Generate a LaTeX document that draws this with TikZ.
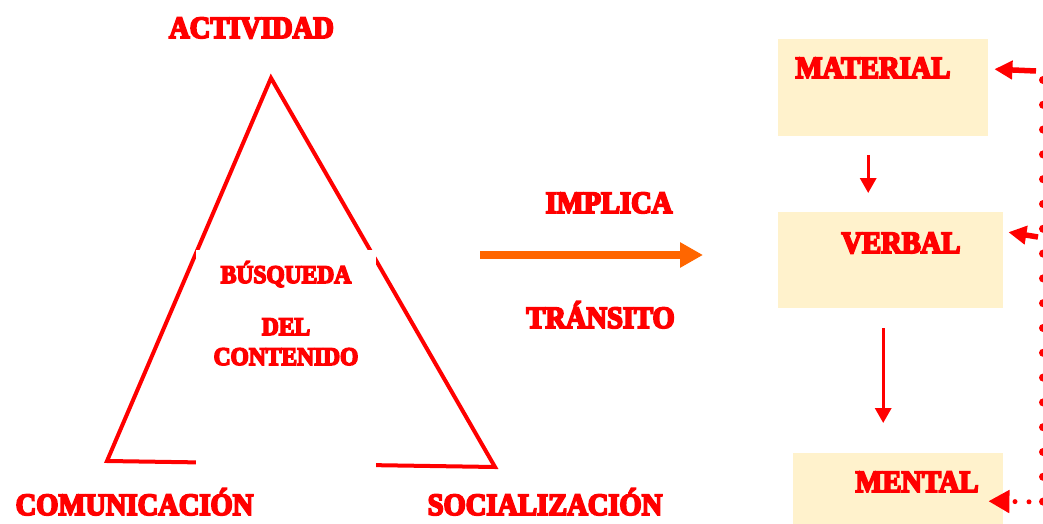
\documentclass[tikz,border=0pt]{standalone}
\usepackage{fontspec}
\newfontfamily\lbl{Liberation Serif Bold}[FakeBold=6,FakeStretch=0.92]
\usetikzlibrary{arrows.meta}
\definecolor{tri}{HTML}{FF0000}
\definecolor{orng}{HTML}{FF6600}
\definecolor{beige}{HTML}{FFF2CC}
\begin{document}
\begin{tikzpicture}[x=1pt,y=-1pt,
  big/.style={text=tri, font=\lbl\fontsize{31}{33}\selectfont, inner sep=0pt, anchor=base},
  small/.style={text=tri, font=\lbl\fontsize{25.5}{27}\selectfont, inner sep=0pt, anchor=base},
  stagebox/.style={fill=beige, draw=none, inner sep=0pt, anchor=north west},
  downarrow/.style={draw=tri, line width=3.3pt, -{Triangle[length=15pt,width=16pt]}},
  backarrow/.style={draw=tri, line width=5.5pt, -{Triangle[length=18pt,width=18pt]}},
  dotline/.style={draw=tri, line cap=round},
]
\useasboundingbox (0,0) rectangle (1043,524);

% triangle
\draw[tri, line width=4pt, line join=miter] (271,78) -- (107,461) -- (495,467) -- cycle;
\node[fill=white, draw=none, inner sep=0pt, minimum width=180pt, minimum height=222pt, anchor=north west] (inner) at (196,250) {};
\node[small] (busq) at (286,283) {BÚSQUEDA};
\node[small] (del) at (286,335) {DEL};
\node[small] (cont) at (286,365) {CONTENIDO};

% corner labels
\node[big] (act) at (251.5,38) {ACTIVIDAD};
\node[big] (com) at (134.5,515) {COMUNICACIÓN};
\node[big] (soc) at (545,515) {SOCIALIZACIÓN};

% middle
\node[big] (impl) at (609,213) {IMPLICA};
\node[big] (tran) at (600.5,328) {TRÁNSITO};
\coordinate (oa) at (480,255);
\coordinate (ob) at (703,255);
\draw[orng, line width=8pt, -{Triangle[length=23pt,width=24pt]}] (oa) -- (ob);

% right boxes
\node[stagebox, minimum width=210pt, minimum height=97pt] (matbox) at (778,39) {};
\node[stagebox, minimum width=225pt, minimum height=96pt] (verbox) at (778,212) {};
\node[stagebox, minimum width=210pt, minimum height=71pt] (menbox) at (793,453) {};
\node[big] (mat) at (873,78) {MATERIAL};
\node[big] (verb) at (901,253) {VERBAL};
\node[big] (ment) at (917,492) {MENTAL};

\draw[downarrow] ([xshift=-15pt,yshift=-19pt]matbox.south) -- ([xshift=-22.5pt,yshift=19pt]verbox.north);
\draw[downarrow] ([xshift=-7.5pt,yshift=-20pt]verbox.south) -- ([xshift=-15pt,yshift=30pt]menbox.north);

% feedback
\coordinate (fm) at (1036,71);
\coordinate (fv) at (1038,237);
\coordinate (dtop) at (1043,80);
\coordinate (dbot) at (1043,502);
\draw[backarrow] (fm) -- ([xshift=6pt,yshift=18.5pt]matbox.east);
\draw[backarrow] (fv) -- ([xshift=5pt,yshift=28pt]verbox.east);
\draw[dotline, line width=8pt, dash pattern=on 0pt off 24.8pt] (dtop) -- (dbot);
\draw[dotline, line width=5pt, dash pattern=on 0pt off 14pt, -{Triangle[length=21pt,width=22pt]}] (dbot) -- ([xshift=-15pt,yshift=-12.5pt]menbox.east);
\end{tikzpicture}
\end{document}
